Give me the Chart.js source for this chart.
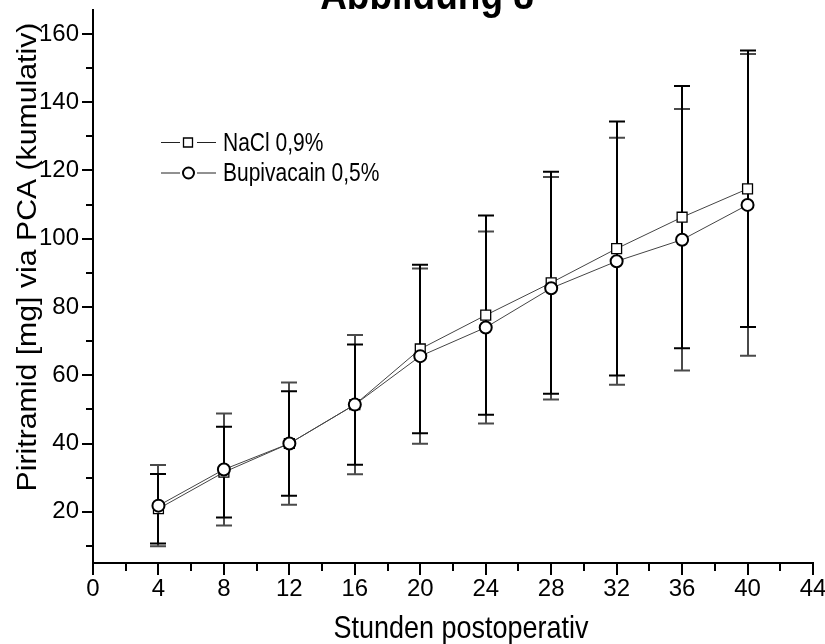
<!DOCTYPE html>
<html>
<head>
<meta charset="utf-8">
<script src="https://cdn.jsdelivr.net/npm/chart.js@4.4.1/dist/chart.umd.min.js"></script>
<style>
  html, body { margin: 0; padding: 0; background: #fff; }
  #wrap { width: 825px; height: 644px; }
</style>
</head>
<body>
<div id="wrap"><canvas id="chart" width="825" height="644"></canvas></div>
<script>
// Stunden postoperativ
const hours = [4, 8, 12, 16, 20, 24, 28, 32, 36, 40];

// Piritramid [mg] kumulativ: Mittelwert und SD je Gruppe
const naclMean = [20.9, 31.6, 40.0, 51.4, 67.7, 77.6, 87.1, 97.1, 106.3, 114.6];
const naclSd = [10.2, 13.3, 15.3, 17.6, 24.7, 29.2, 32.5, 37.2, 38.4, 40.5];
const bupiMean = [21.8, 32.4, 40.0, 51.4, 65.6, 74.0, 85.5, 93.4, 99.7, 109.9];
const bupiSd = [11.9, 16.4, 17.9, 20.4, 25.7, 28.1, 32.6, 36.2, 38.3, 44.2];

// Achsenteilung
const xTicks = [0, 4, 8, 12, 16, 20, 24, 28, 32, 36, 40, 44];
const xMinorTicks = [2, 6, 10, 14, 18, 22, 26, 30, 34, 38, 42];
const yTicks = [20, 40, 60, 80, 100, 120, 140, 160];
const yMinorTicks = [10, 30, 50, 70, 90, 110, 130, 150];

const FONT = '"Liberation Sans", Arial, sans-serif';

function toPoints(xs, ys) {
    return xs.map((x, i) => ({ x: x, y: ys[i] }));
}

// text stretched a bit vertically, like the original export
function drawText(ctx, text, x, y, font, align, sy) {
    ctx.save();
    ctx.translate(x, y);
    ctx.scale(1, sy);
    ctx.font = font;
    ctx.fillStyle = '#000';
    ctx.textAlign = align;
    ctx.textBaseline = 'alphabetic';
    ctx.fillText(text, 0, 0);
    ctx.restore();
}

// Error bars (mean +/- SD)
const errorBars = {
    id: 'errorBars',
    beforeDatasetsDraw(chart) {
        const { ctx, scales: { x, y } } = chart;
        const order = chart.data.datasets.map((d, i) => i).reverse();
        ctx.save();
        order.forEach(i => {
            const ds = chart.data.datasets[i];
            ctx.strokeStyle = ds.errorColor;
            ctx.lineWidth = 2;
            ds.data.forEach((p, j) => {
                const px = Math.round(x.getPixelForValue(p.x));
                const top = y.getPixelForValue(p.y + ds.sd[j]);
                const bot = y.getPixelForValue(p.y - ds.sd[j]);
                ctx.beginPath();
                ctx.moveTo(px, top);
                ctx.lineTo(px, bot);
                ctx.moveTo(px - 8, top);
                ctx.lineTo(px + 8, top);
                ctx.moveTo(px - 8, bot);
                ctx.lineTo(px + 8, bot);
                ctx.stroke();
            });
        });
        ctx.restore();
    }
};

// outward tick marks, longer for labelled ticks
const axisTicks = {
    id: 'axisTicks',
    afterDraw(chart) {
        const { ctx, chartArea, scales: { x, y } } = chart;
        ctx.save();
        ctx.strokeStyle = '#000';
        ctx.lineWidth = 2;
        ctx.beginPath();
        yTicks.forEach(v => {
            const py = Math.round(y.getPixelForValue(v));
            ctx.moveTo(chartArea.left - 1, py);
            ctx.lineTo(chartArea.left - 11, py);
        });
        yMinorTicks.forEach(v => {
            const py = Math.round(y.getPixelForValue(v));
            ctx.moveTo(chartArea.left - 1, py);
            ctx.lineTo(chartArea.left - 7, py);
        });
        xTicks.forEach(v => {
            const px = Math.round(x.getPixelForValue(v));
            ctx.moveTo(px, chartArea.bottom + 1);
            ctx.lineTo(px, chartArea.bottom + 12);
        });
        xMinorTicks.forEach(v => {
            const px = Math.round(x.getPixelForValue(v));
            ctx.moveTo(px, chartArea.bottom + 1);
            ctx.lineTo(px, chartArea.bottom + 8);
        });
        ctx.stroke();
        ctx.restore();
    }
};

// title, axis titles and the legend inside the plot
const annotations = {
    id: 'annotations',
    afterDraw(chart) {
        const ctx = chart.ctx;

        // title sits partly above the page edge in the original
        drawText(ctx, 'Abbildung 8', 427, 9, 'bold 37px ' + FONT, 'center', 1.15);
        drawText(ctx, 'Stunden postoperativ', 461, 638, '27px ' + FONT, 'center', 1.15);

        ctx.save();
        ctx.translate(36, 257);
        ctx.rotate(-Math.PI / 2);
        ctx.scale(1.12, 1);
        ctx.font = '27px ' + FONT;
        ctx.fillStyle = '#000';
        ctx.textAlign = 'center';
        ctx.textBaseline = 'alphabetic';
        ctx.fillText('Piritramid [mg] via PCA (kumulativ)', 0, 0);
        ctx.restore();

        // legend
        const rows = [
            { label: chart.data.datasets[0].label, y: 142.5, style: 'rect' },
            { label: chart.data.datasets[1].label, y: 173, style: 'circle' }
        ];
        ctx.save();
        rows.forEach(r => {
            ctx.strokeStyle = '#222';
            ctx.lineWidth = 1;
            ctx.beginPath();
            ctx.moveTo(161, r.y);
            ctx.lineTo(180, r.y);
            ctx.moveTo(197, r.y);
            ctx.lineTo(216, r.y);
            ctx.stroke();
            ctx.fillStyle = '#fff';
            ctx.strokeStyle = '#000';
            ctx.beginPath();
            if (r.style === 'rect') {
                ctx.lineWidth = 1.3;
                ctx.rect(183.5, r.y - 4.5, 9, 9);
            } else {
                ctx.lineWidth = 2;
                ctx.arc(188.5, r.y, 5.5, 0, Math.PI * 2);
            }
            ctx.fill();
            ctx.stroke();
            drawText(ctx, r.label, 223, r.y + 8, '21px ' + FONT, 'left', 1.25);
        });
        ctx.restore();
    }
};

new Chart(document.getElementById('chart'), {
    type: 'line',
    data: {
        datasets: [
            {
                label: 'NaCl 0,9%',
                data: toPoints(hours, naclMean),
                sd: naclSd,
                errorColor: '#000',
                borderColor: '#444',
                borderWidth: 1,
                pointStyle: 'rect',
                pointRadius: 7,
                pointBorderWidth: 1.3,
                pointBorderColor: '#000',
                pointBackgroundColor: '#fff',
                order: 2
            },
            {
                label: 'Bupivacain 0,5%',
                data: toPoints(hours, bupiMean),
                sd: bupiSd,
                errorColor: '#4a4a4a',
                borderColor: '#444',
                borderWidth: 1,
                pointStyle: 'circle',
                pointRadius: 6,
                pointBorderWidth: 2,
                pointBorderColor: '#000',
                pointBackgroundColor: '#fff',
                order: 1
            }
        ]
    },
    options: {
        responsive: false,
        devicePixelRatio: 1,
        animation: false,
        layout: { padding: { left: 0, top: 10, right: 12, bottom: 0 } },
        plugins: {
            legend: { display: false },
            tooltip: { enabled: false }
        },
        scales: {
            x: {
                type: 'linear',
                min: 0,
                max: 44,
                grid: { display: false, drawTicks: false },
                border: { display: true, color: '#000', width: 2 },
                ticks: {
                    color: '#000',
                    font: { family: FONT, size: 24 },
                    padding: 12,
                    maxRotation: 0,
                    autoSkip: false
                },
                afterBuildTicks: s => { s.ticks = xTicks.map(v => ({ value: v })); },
                afterFit: s => { s.height = 81; s.paddingLeft = 0; s.paddingRight = 0; }
            },
            y: {
                min: 5,
                max: 167,
                grid: { display: false, drawTicks: false },
                border: { display: true, color: '#000', width: 2 },
                ticks: {
                    color: '#000',
                    font: { family: FONT, size: 24 },
                    padding: 14,
                    autoSkip: false
                },
                afterBuildTicks: s => { s.ticks = yTicks.map(v => ({ value: v })); },
                afterFit: s => { s.width = 93; s.paddingTop = 0; s.paddingBottom = 0; }
            }
        }
    },
    plugins: [errorBars, axisTicks, annotations]
});
</script>
</body>
</html>
